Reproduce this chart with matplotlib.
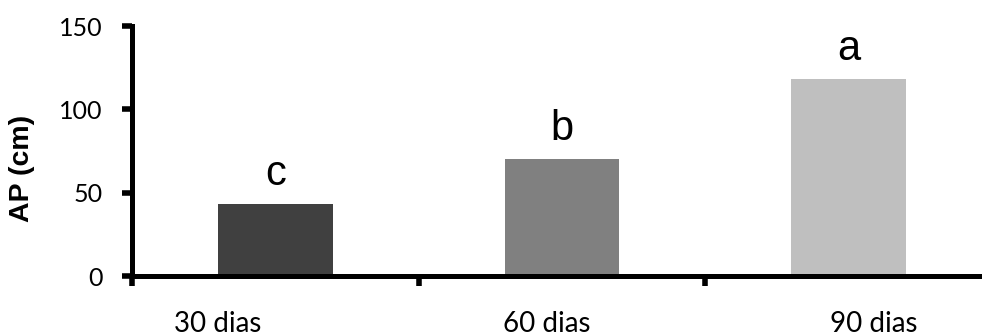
import matplotlib
matplotlib.use("Agg")
import matplotlib.pyplot as plt
from matplotlib.ticker import FixedLocator

categories = ["30 dias", "60 dias", "90 dias"]
values = [43, 70, 118]
letters = ["c", "b", "a"]
colors = ["#404040", "#808080", "#bfbfbf"]

fig = plt.figure(figsize=(9.82, 3.36), dpi=100)
ax = fig.add_axes([132 / 982, 60 / 336, 860 / 982, 250 / 336])

x = list(range(len(categories)))
bars = ax.bar(x, values, width=0.4, color=colors, zorder=1)

for rect, lab in zip(bars, letters):
    ax.annotate(lab, (rect.get_x() + rect.get_width() / 2, rect.get_height()),
                xytext=(0, 14), textcoords="offset points",
                ha="center", va="baseline", fontsize=30,
                family="Liberation Sans")

ax.set_xlim(-0.5, 2.5)
ax.set_ylim(0, 150)
ax.set_yticks([0, 50, 100, 150])

# excel-ish: tick marks between categories, labels shifted
ax.xaxis.set_minor_locator(FixedLocator([-0.5, 0.5, 1.5, 2.5]))
ax.set_xticks([-0.2, 0.946, 2.089])
ax.set_xticklabels(categories, family="Lato", fontsize=20)
ax.tick_params(axis="x", which="major", length=0, pad=25)
ax.tick_params(axis="x", which="minor", length=7, width=4, direction="out")
ax.tick_params(axis="y", length=7, width=4, direction="out", pad=14,
               labelsize=18)
for t in ax.get_yticklabels():
    t.set_family("Lato")

ax.set_ylabel("AP (cm)", family="Liberation Sans", fontweight="bold",
              fontsize=20.5)
ax.yaxis.set_label_coords(-0.113, 0.43)

for s in ["top", "right"]:
    ax.spines[s].set_visible(False)
for s in ["left", "bottom"]:
    ax.spines[s].set_linewidth(3.6)
ax.spines["left"].set_zorder(3)
ax.spines["bottom"].set_zorder(3)

fig.savefig("out.png", dpi=100)
